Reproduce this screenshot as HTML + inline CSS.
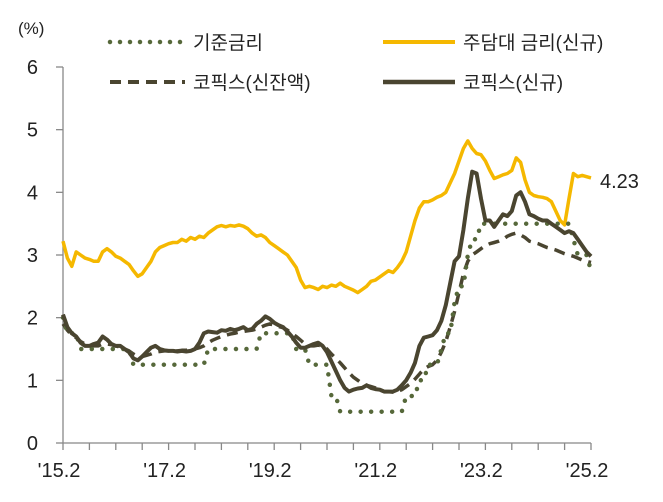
<!DOCTYPE html>
<html><head><meta charset="utf-8"><style>
body{margin:0;background:#fff;}
svg text{font-family:"Liberation Sans","Noto Sans CJK KR",sans-serif;fill:#222;}
</style></head><body>
<svg id="chart" width="663" height="497" viewBox="0 0 663 497" xmlns="http://www.w3.org/2000/svg">
<text x="18" y="34" font-size="17">(%)</text>
<g>
 <line x1="110" y1="42" x2="185" y2="42" stroke="#56683a" stroke-width="4.5" stroke-linecap="round" stroke-dasharray="0 10"/>
 <text x="193" y="49" font-size="19">기준금리</text>
 <line x1="383" y1="42" x2="455" y2="42" stroke="#f5b800" stroke-width="4"/>
 <text x="463" y="49" font-size="19">주담대 금리(신규)</text>
 <line x1="110" y1="82" x2="185" y2="82" stroke="#4a4530" stroke-width="4" stroke-dasharray="11 7"/>
 <text x="193" y="89" font-size="19">코픽스(신잔액)</text>
 <line x1="383" y1="82" x2="455" y2="82" stroke="#4a4530" stroke-width="4.5"/>
 <text x="463" y="89" font-size="19">코픽스(신규)</text>
</g>
<g id="axes"></g>
<g id="series"></g>
<text x="600" y="188" font-size="20">4.23</text>
</svg>
<script>
const yTicks=[0,1,2,3,4,5,6];
const xTickLabels=["'15.2","'17.2","'19.2","'21.2","'23.2","'25.2"];
const baseRate=[2.0,1.75,1.75,1.75,1.5,1.5,1.5,1.5,1.5,1.5,1.5,
1.5,1.5,1.5,1.5,1.5,1.25,1.25,1.25,1.25,1.25,1.25,1.25,
1.25,1.25,1.25,1.25,1.25,1.25,1.25,1.25,1.25,1.25,1.5,1.5,
1.5,1.5,1.5,1.5,1.5,1.5,1.5,1.5,1.5,1.5,1.75,1.75,
1.75,1.75,1.75,1.75,1.75,1.75,1.5,1.5,1.5,1.25,1.25,1.25,
1.25,1.25,0.75,0.75,0.5,0.5,0.5,0.5,0.5,0.5,0.5,0.5,
0.5,0.5,0.5,0.5,0.5,0.5,0.5,0.75,0.75,0.75,1.0,1.0,
1.25,1.25,1.25,1.5,1.75,1.75,2.25,2.5,2.5,3.0,3.25,3.25,
3.5,3.5,3.5,3.5,3.5,3.5,3.5,3.5,3.5,3.5,3.5,3.5,
3.5,3.5,3.5,3.5,3.5,3.5,3.5,3.5,3.5,3.25,3.0,3.0,
3.0,2.75];
const mortgage=[3.22,2.95,2.82,3.05,3.0,2.95,2.93,2.9,2.9,3.05,3.1,
3.05,2.98,2.95,2.9,2.85,2.75,2.66,2.7,2.8,2.9,3.05,3.12,
3.15,3.18,3.2,3.2,3.25,3.22,3.28,3.25,3.3,3.28,3.35,3.4,
3.45,3.47,3.45,3.47,3.46,3.48,3.46,3.42,3.35,3.3,3.32,3.28,
3.2,3.15,3.1,3.05,3.0,2.9,2.8,2.6,2.48,2.5,2.48,2.45,
2.5,2.48,2.52,2.5,2.55,2.5,2.47,2.44,2.4,2.45,2.5,2.58,
2.6,2.65,2.7,2.75,2.72,2.8,2.9,3.05,3.3,3.55,3.75,3.85,
3.85,3.88,3.92,3.95,4.0,4.15,4.3,4.5,4.7,4.82,4.7,4.62,
4.6,4.5,4.35,4.22,4.25,4.28,4.3,4.35,4.55,4.48,4.2,4.0,
3.95,3.93,3.92,3.9,3.85,3.7,3.55,3.48,3.9,4.3,4.25,4.27,
4.25,4.23];
const cofixNew=[2.05,1.85,1.75,1.7,1.6,1.55,1.55,1.58,1.6,1.7,1.65,
1.58,1.55,1.55,1.5,1.45,1.35,1.32,1.38,1.45,1.52,1.55,1.5,
1.48,1.47,1.47,1.46,1.47,1.46,1.47,1.5,1.6,1.75,1.78,1.77,
1.76,1.8,1.79,1.82,1.8,1.82,1.85,1.8,1.82,1.9,1.95,2.02,
1.98,1.92,1.88,1.85,1.78,1.7,1.6,1.52,1.52,1.55,1.58,1.6,
1.55,1.45,1.3,1.15,1.0,0.88,0.82,0.85,0.87,0.88,0.92,0.88,
0.86,0.85,0.82,0.82,0.82,0.85,0.92,1.0,1.12,1.28,1.55,1.68,
1.7,1.72,1.8,1.95,2.2,2.55,2.9,2.98,3.4,3.9,4.33,4.3,
3.9,3.55,3.55,3.45,3.55,3.65,3.62,3.7,3.95,4.0,3.85,3.65,
3.62,3.58,3.55,3.55,3.5,3.45,3.4,3.35,3.38,3.35,3.25,3.15,
3.05,2.98];
const cofixBalance=[1.9,1.8,1.72,1.68,1.62,1.58,1.55,1.55,1.55,1.58,1.58,
1.57,1.55,1.53,1.5,1.47,1.42,1.38,1.38,1.4,1.42,1.45,1.46,
1.47,1.47,1.47,1.47,1.48,1.48,1.49,1.5,1.52,1.55,1.6,1.64,
1.67,1.7,1.72,1.74,1.75,1.77,1.78,1.79,1.8,1.82,1.85,1.88,
1.9,1.88,1.86,1.84,1.8,1.75,1.7,1.64,1.58,1.55,1.55,1.56,
1.55,1.5,1.42,1.35,1.28,1.2,1.12,1.05,1.0,0.95,0.92,0.9,
0.88,0.85,0.82,0.82,0.81,0.82,0.85,0.9,0.95,1.02,1.1,1.18,
1.22,1.25,1.32,1.45,1.62,1.85,2.1,2.4,2.7,2.9,3.0,3.05,
3.1,3.15,3.18,3.2,3.22,3.25,3.3,3.33,3.35,3.32,3.28,3.22,
3.2,3.18,3.15,3.12,3.1,3.08,3.05,3.02,3.0,2.98,2.95,2.92,
2.9,2.88];

const NS='http://www.w3.org/2000/svg';
const X0=63,X1=591,Y0=443,Y6=67;
function xs(i){return X0+(X1-X0)*i/120;}
function ys(v){return Y0-(Y0-Y6)*v/6;}
const axes=document.getElementById('axes');
const series=document.getElementById('series');
function mk(tag,attrs,parent){const e=document.createElementNS(NS,tag);for(const k in attrs)e.setAttribute(k,attrs[k]);parent.appendChild(e);return e;}

const ya=mk('line',{x1:X0,y1:Y6,x2:X0,y2:Y0,stroke:'#888','stroke-width':1.3},axes);


const xa=mk('line',{x1:X0,y1:Y0,x2:X1,y2:Y0,stroke:'#888','stroke-width':1.3},axes);


yTicks.forEach(v=>{
 const t=mk('line',{x1:X0-7,y1:ys(v),x2:X0,y2:ys(v),stroke:'#888','stroke-width':1.3},axes);
 
 
 const l=mk('text',{x:38,y:ys(v)+7,'font-size':20,'text-anchor':'end'},axes);
 l.textContent=String(v);
 
 
});
for(let i=0;i<=120;i+=6){
 const t=mk('line',{x1:xs(i),y1:Y0,x2:xs(i),y2:Y0+7,stroke:'#888','stroke-width':1.3},axes);
 
 
}
xTickLabels.forEach((s,k)=>{
 const l=mk('text',{x:xs(k*24)-4,y:477,'font-size':20,'text-anchor':'middle'},axes);
 l.textContent=s;
 
 
});
function pts(arr){return arr.map((v,i)=>xs(i).toFixed(1)+','+ys(v).toFixed(1)).join(' ');}
const p1=mk('polyline',{points:pts(mortgage),fill:'none',stroke:'#f5b800','stroke-width':3.5,'stroke-linejoin':'round'},series);


const p2=mk('polyline',{points:pts(cofixBalance),fill:'none',stroke:'#4a4530','stroke-width':3.5,'stroke-dasharray':'11 7','stroke-linejoin':'round'},series);


const p3=mk('polyline',{points:pts(baseRate),fill:'none',stroke:'#56683a','stroke-width':4.5,'stroke-dasharray':'0 10.5','stroke-linecap':'round','stroke-linejoin':'round'},series);


const p4=mk('polyline',{points:pts(cofixNew),fill:'none',stroke:'#4a4530','stroke-width':4,'stroke-linejoin':'round'},series);


</script>
</body></html>
